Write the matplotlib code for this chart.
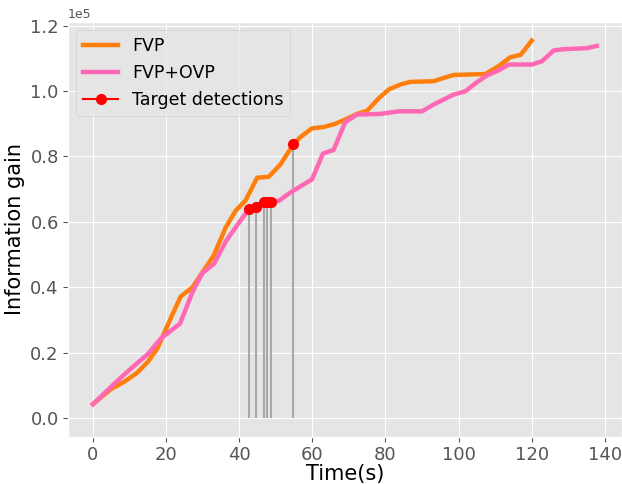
import matplotlib
matplotlib.use("Agg")
import matplotlib.pyplot as plt

plt.style.use("ggplot")

fvp_t = [0, 4.8, 8.5, 12.1, 15.0, 17.6, 21.2, 24.0, 27.2, 33.0, 36.3, 39.0, 41.7, 44.9, 48.1,
         51.3, 54.8, 56.7, 59.9, 63.1, 66.3, 69.0, 72.2, 75.0, 78.1, 80.9, 84.1, 86.8, 93.2,
         95.9, 98.6, 107.3, 110.9, 114.1, 117.0, 120.0]
fvp_v = [4.3e3, 8.8e3, 11.1e3, 13.9e3, 17.2e3, 21.3e3, 30.4e3, 37.2e3, 40.0e3, 49.7e3, 58.3e3,
         63.4e3, 66.5e3, 73.5e3, 73.8e3, 77.6e3, 83.7e3, 85.9e3, 88.6e3, 89.0e3, 90.0e3,
         91.3e3, 93.0e3, 94.0e3, 97.7e3, 100.5e3, 102.0e3, 102.8e3, 103.0e3, 104.0e3,
         104.9e3, 105.2e3, 107.6e3, 110.3e3, 111.1e3, 115.4e3]

ovp_t = [0, 5.7, 9.4, 15.0, 18.5, 23.8, 27.2, 29.9, 33.1, 36.3, 39.0, 42.6, 44.6, 46.7, 50.8,
         54.0, 59.9, 62.9, 65.8, 69.0, 72.2, 78.6, 83.6, 90.0, 93.2, 98.6, 101.8, 105.0,
         107.8, 110.9, 113.7, 120.0, 122.8, 126.0, 128.7, 135.1, 137.8]
ovp_v = [4.3e3, 10.4e3, 14.2e3, 19.6e3, 24.3e3, 28.9e3, 38.5e3, 44.3e3, 47.2e3, 54.0e3,
         58.3e3, 63.9e3, 64.7e3, 66.2e3, 66.4e3, 69.0e3, 73.0e3, 80.9e3, 82.0e3, 90.5e3,
         92.8e3, 93.0e3, 93.8e3, 93.8e3, 95.9e3, 98.9e3, 99.9e3, 102.7e3, 104.8e3, 106.3e3,
         108.1e3, 108.1e3, 109.1e3, 112.4e3, 112.8e3, 113.1e3, 113.8e3]

det_t = [42.6, 44.6, 46.7, 47.6, 48.7, 54.8]
det_v = [63.9e3, 64.7e3, 66.2e3, 66.2e3, 66.2e3, 83.7e3]

fig = plt.figure(figsize=(6.22, 4.84), dpi=100)
ax = fig.add_axes([0.109, 0.097, 0.891, 0.858])

ax.vlines(det_t, 0, det_v, colors="#a8a8a8", linewidth=1.5, zorder=2)
ax.plot(fvp_t, fvp_v, color="#ff7f0e", linewidth=3.2, label="FVP", zorder=3)
ax.plot(ovp_t, ovp_v, color="#ff69b4", linewidth=3.2, label="FVP+OVP", zorder=3)
for i, (t, v) in enumerate(zip(det_t, det_v)):
    ax.plot([t], [v], "o-", color="red", markersize=7, zorder=4,
            label="Target detections" if i == 0 else None)

ax.ticklabel_format(axis="y", style="sci", scilimits=(0, 0))
ax.yaxis.get_offset_text().set_fontsize(9)
ax.tick_params(labelsize=13, pad=3)
ax.set_xlabel("Time(s)", fontsize=15, color="black", labelpad=0)
ax.set_ylabel("Information gain", fontsize=15, color="black")
ax.set_xticks([0, 20, 40, 60, 80, 100, 120, 140])
ax.set_yticks([0, 20000, 40000, 60000, 80000, 100000, 120000])
ax.legend(loc="upper left", fontsize=12.5, handlelength=2.0)

fig.savefig("out.png", dpi=100)
